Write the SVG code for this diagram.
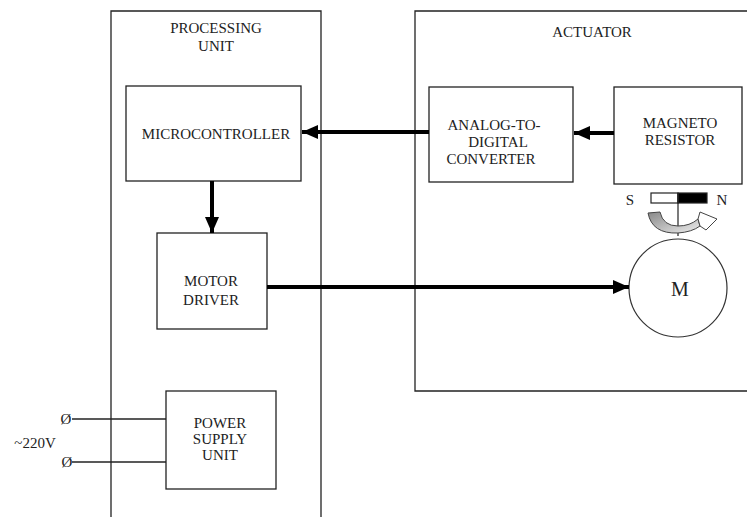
<svg xmlns="http://www.w3.org/2000/svg" width="747" height="517" viewBox="0 0 747 517">
<style>
text{font-family:"Liberation Serif","Times New Roman","DejaVu Serif",serif}
.box{fill:#fff;stroke:#222;stroke-width:1.3}
.t{font-size:15px;fill:#222;text-anchor:middle}
.conn{stroke:#000;stroke-width:4;fill:none}
.wire{stroke:#222;stroke-width:1.3;fill:none}
</style>
<defs>
<marker id="ah" viewBox="0 0 16 14" refX="16" refY="7" markerWidth="16" markerHeight="14" markerUnits="userSpaceOnUse" orient="auto">
<path d="M0,0 L16,7 L0,14 Z" fill="#000"/>
</marker>
<linearGradient id="g" x1="0" y1="0" x2="1" y2="1">
<stop offset="0" stop-color="#888"/><stop offset="1" stop-color="#eee"/>
</linearGradient>
</defs>
<rect width="747" height="517" fill="#fff"/>
<g id="processing-unit">
<path class="box" d="M111,517 V11 H321 V517"/>
<text class="t" x="216" y="33">PROCESSING</text>
<text class="t" x="216" y="51">UNIT</text>
</g>
<g id="actuator">
<path class="box" d="M747,11 H415 V391 H747"/>
<text class="t" x="592" y="37">ACTUATOR</text>
</g>
<g id="microcontroller">
<rect class="box" x="126" y="86" width="175" height="95"/>
<text class="t" x="216" y="139">MICROCONTROLLER</text>
</g>
<g id="motor-driver">
<rect class="box" x="157" y="233" width="110" height="96"/>
<text class="t" x="211" y="286">MOTOR</text>
<text class="t" x="211" y="305">DRIVER</text>
</g>
<g id="power-supply">
<rect class="box" x="166" y="391" width="110" height="98"/>
<text class="t" x="220" y="428">POWER</text>
<text class="t" x="220" y="444">SUPPLY</text>
<text class="t" x="220" y="460">UNIT</text>
</g>
<g id="adc">
<rect class="box" x="429" y="87" width="144" height="95"/>
<text class="t" x="494" y="130">ANALOG-TO-</text>
<text class="t" x="498" y="147">DIGITAL</text>
<text class="t" x="491" y="164">CONVERTER</text>
</g>
<g id="magneto-resistor">
<rect class="box" x="614" y="87" width="128" height="97"/>
<text class="t" x="680" y="128">MAGNETO</text>
<text class="t" x="680" y="145">RESISTOR</text>
</g>
<g id="magnet">
<rect x="651" y="193" width="27" height="10" fill="#fff" stroke="#222" stroke-width="1.2"/>
<rect x="678" y="193" width="29" height="10" fill="#000" stroke="#222" stroke-width="1.2"/>
<line x1="678" y1="193" x2="678" y2="236" stroke="#222" stroke-width="1.2"/>
<text class="t" x="630" y="205">S</text>
<text class="t" x="722" y="205">N</text>
<path d="M648,213 Q652,234 678,233 Q692,232 700,226 L698,219 Q690,226 678,226 Q663,226 660,212 Z" fill="url(#g)" stroke="#444" stroke-width="1"/>
<path d="M698,219 L700,212 L717,219 L706,230 L700,226 Z" fill="#fff" stroke="#444" stroke-width="1"/>
</g>
<g id="motor">
<circle cx="678" cy="288" r="49" fill="#fff" stroke="#333" stroke-width="1.2"/>
<text class="t" x="680" y="296" style="font-size:20px">M</text>
</g>
<g id="terminals">
<line class="wire" x1="72" y1="419" x2="166" y2="419"/>
<line class="wire" x1="72" y1="462" x2="166" y2="462"/>
<text class="t" x="66" y="424" style="font-size:15px">Ø</text>
<text class="t" x="67" y="467" style="font-size:15px">Ø</text>
<text class="t" x="35" y="448" style="font-size:15px">~220V</text>
</g>
<g id="connectors">
<line class="conn" x1="429" y1="132" x2="302" y2="132" marker-end="url(#ah)"/>
<line class="conn" x1="614" y1="133" x2="574" y2="133" marker-end="url(#ah)"/>
<line class="conn" x1="212" y1="181" x2="212" y2="233" marker-end="url(#ah)"/>
<line class="conn" x1="267" y1="287" x2="629" y2="287" marker-end="url(#ah)"/>
</g>
</svg>
